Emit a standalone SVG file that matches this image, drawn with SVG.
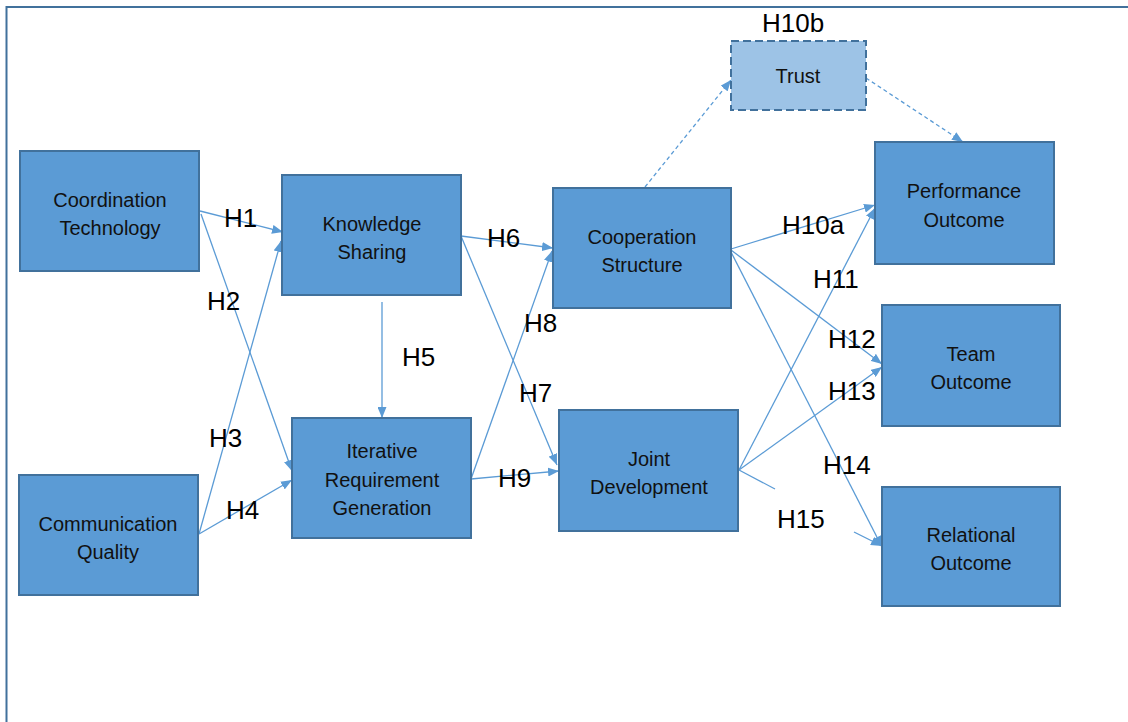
<svg xmlns="http://www.w3.org/2000/svg" width="1128" height="722" viewBox="0 0 1128 722">
<style>
.node{fill:#5b9bd5;stroke:#41719c;stroke-width:2}
.trust{fill:#9dc3e6;stroke:#41719c;stroke-width:2;stroke-dasharray:8 4}
.nt{font-family:"Liberation Sans",Arial,sans-serif;font-size:20px;fill:#111;text-anchor:middle}
.lbl{font-family:"Liberation Sans",Arial,sans-serif;font-size:26px;fill:#000}
.c{stroke:#5b9bd5;stroke-width:1.3;fill:none}
.d{stroke:#5b9bd5;stroke-width:1.3;fill:none;stroke-dasharray:4 3}
</style>
<defs>
<marker id="ah" markerUnits="userSpaceOnUse" markerWidth="11" markerHeight="9" refX="11" refY="4.5" orient="auto">
<path d="M0,0 L11,4.5 L0,9 z" fill="#5b9bd5"/>
</marker>
</defs>
<rect width="1128" height="722" fill="#fff"/>
<path d="M6.5,722 V7 H1128" fill="none" stroke="#41719c" stroke-width="2"/>
<g id="connectors">
<line class="c" x1="200" y1="211" x2="283" y2="232" marker-end="url(#ah)"/>
<line class="c" x1="201" y1="214" x2="292" y2="471" marker-end="url(#ah)"/>
<line class="c" x1="199" y1="534" x2="281" y2="241" marker-end="url(#ah)"/>
<line class="c" x1="199" y1="534" x2="292" y2="480" marker-end="url(#ah)"/>
<line class="c" x1="382" y1="302" x2="382" y2="418" marker-end="url(#ah)"/>
<line class="c" x1="461" y1="236" x2="553" y2="248" marker-end="url(#ah)"/>
<line class="c" x1="461" y1="236" x2="557" y2="465" marker-end="url(#ah)"/>
<line class="c" x1="471" y1="479" x2="552" y2="251" marker-end="url(#ah)"/>
<line class="c" x1="471" y1="479" x2="559" y2="471" marker-end="url(#ah)"/>
<line class="d" x1="645" y1="187" x2="731" y2="80" marker-end="url(#ah)"/>
<line class="d" x1="866" y1="78" x2="963" y2="142" marker-end="url(#ah)"/>
<line class="c" x1="731" y1="249" x2="875" y2="205" marker-end="url(#ah)"/>
<line class="c" x1="739" y1="470" x2="875" y2="208" marker-end="url(#ah)"/>
<line class="c" x1="731" y1="250" x2="882" y2="364" marker-end="url(#ah)"/>
<line class="c" x1="739" y1="470" x2="882" y2="367" marker-end="url(#ah)"/>
<line class="c" x1="731" y1="252" x2="882" y2="547" marker-end="url(#ah)"/>
<line class="c" x1="739" y1="470" x2="775" y2="489"/>
<line class="c" x1="854" y1="532" x2="882" y2="546" marker-end="url(#ah)"/>
</g>
<g id="labels">
<text class="lbl" x="224" y="227">H1</text>
<text class="lbl" x="207" y="310">H2</text>
<text class="lbl" x="209" y="447">H3</text>
<text class="lbl" x="226" y="519">H4</text>
<text class="lbl" x="402" y="366">H5</text>
<text class="lbl" x="487" y="247">H6</text>
<text class="lbl" x="519" y="402">H7</text>
<text class="lbl" x="524" y="332">H8</text>
<text class="lbl" x="498" y="487">H9</text>
<text class="lbl" x="762" y="32">H10b</text>
<text class="lbl" x="782" y="234">H10a</text>
<text class="lbl" x="813" y="288">H11</text>
<text class="lbl" x="828" y="348">H12</text>
<text class="lbl" x="828" y="400">H13</text>
<text class="lbl" x="823" y="474">H14</text>
<text class="lbl" x="777" y="528">H15</text>
</g>
<g id="coordination-technology">
<rect class="node" x="20" y="151" width="179" height="120"/>
<text class="nt" x="110" y="207">Coordination</text>
<text class="nt" x="110" y="235">Technology</text>
</g>
<g id="communication-quality">
<rect class="node" x="19" y="475" width="179" height="120"/>
<text class="nt" x="108" y="531">Communication</text>
<text class="nt" x="108" y="559">Quality</text>
</g>
<g id="knowledge-sharing">
<rect class="node" x="282" y="175" width="179" height="120"/>
<text class="nt" x="372" y="231">Knowledge</text>
<text class="nt" x="372" y="259">Sharing</text>
</g>
<g id="iterative-requirement-generation">
<rect class="node" x="292" y="418" width="179" height="120"/>
<text class="nt" x="382" y="458">Iterative</text>
<text class="nt" x="382" y="487">Requirement</text>
<text class="nt" x="382" y="515">Generation</text>
</g>
<g id="cooperation-structure">
<rect class="node" x="553" y="188" width="178" height="120"/>
<text class="nt" x="642" y="244">Cooperation</text>
<text class="nt" x="642" y="272">Structure</text>
</g>
<g id="joint-development">
<rect class="node" x="559" y="410" width="179" height="121"/>
<text class="nt" x="649" y="466">Joint</text>
<text class="nt" x="649" y="494">Development</text>
</g>
<g id="trust">
<rect class="trust" x="731" y="41" width="135" height="69"/>
<text class="nt" x="798" y="83">Trust</text>
</g>
<g id="performance-outcome">
<rect class="node" x="875" y="142" width="179" height="122"/>
<text class="nt" x="964" y="198">Performance</text>
<text class="nt" x="964" y="227">Outcome</text>
</g>
<g id="team-outcome">
<rect class="node" x="882" y="305" width="178" height="121"/>
<text class="nt" x="971" y="361">Team</text>
<text class="nt" x="971" y="389">Outcome</text>
</g>
<g id="relational-outcome">
<rect class="node" x="882" y="487" width="178" height="119"/>
<text class="nt" x="971" y="542">Relational</text>
<text class="nt" x="971" y="570">Outcome</text>
</g>
</svg>
